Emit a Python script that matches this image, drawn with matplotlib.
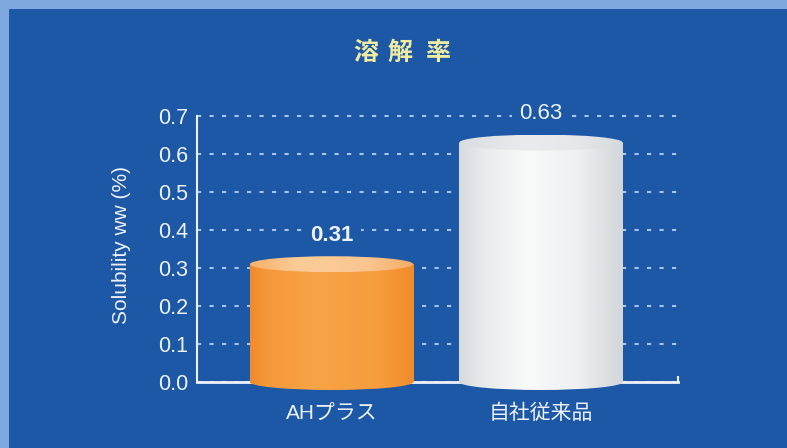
import numpy as np
import matplotlib
matplotlib.use('Agg')
import matplotlib.pyplot as plt
from matplotlib.patches import Ellipse, Rectangle
from matplotlib.colors import to_rgb

plt.rcParams['font.family'] = ['Liberation Sans', 'Noto Sans CJK JP', 'DejaVu Sans']

# ---- data ----
title = "溶解率"
categories = ["AHプラス", "自社従来品"]
values = [0.31, 0.63]
value_labels = ["0.31", "0.63"]
yticks = [0.0, 0.1, 0.2, 0.3, 0.4, 0.5, 0.6, 0.7]
ytick_labels = ["0.0", "0.1", "0.2", "0.3", "0.4", "0.5", "0.6", "0.7"]
ylabel = "Solubility ww (%)"

# ---- style ----
BG = '#1c58a6'
BORDER = '#80aadf'
TXT = '#eef2f8'
TITLE_C = '#efeba2'
GRID_C = '#a9c4e8'

body_stops = [
    [(0.0, '#f08a2a'), (0.1, '#f5983a'), (0.4, '#f8a446'), (0.8, '#f69c3c'), (1.0, '#f08c2c')],
    [(0.0, '#d6dadd'), (0.15, '#e8ebed'), (0.42, '#f9fafa'), (0.72, '#eef0f1'), (1.0, '#d3d7da')],
]
top_stops = [
    [(0.0, '#f5b06a'), (0.3, '#fbcc98'), (0.7, '#fac792'), (1.0, '#f4ac66')],
    [(0.0, '#d9dde0'), (0.4, '#e9ecee'), (0.7, '#e6e9eb'), (1.0, '#d6dadd')],
]
label_weights = ['bold', 'normal']


def grad(stops, n=256):
    pos = [p for p, _ in stops]
    cols = np.array([to_rgb(c) for _, c in stops])
    xs = np.linspace(0, 1, n)
    img = np.stack([np.interp(xs, pos, cols[:, k]) for k in range(3)], axis=-1)
    return img[np.newaxis, :, :]


fig = plt.figure(figsize=(7.87, 4.48), dpi=100, facecolor=BORDER)
fig.patches.append(Rectangle((9 / 787, 0), 1, 1 - 9 / 448, transform=fig.transFigure,
                             facecolor=BG, edgecolor='none', zorder=-10))

ax = fig.add_axes([197 / 787, 0.1176, 481 / 787, 0.632])
ax.set_facecolor('none')

x = np.arange(len(categories))
bw = 0.78
eh = 0.042
bars = ax.bar(x, values, width=bw, facecolor='none', edgecolor='none', zorder=3)

for i, rect in enumerate(bars):
    x0 = rect.get_x()
    w = rect.get_width()
    h = rect.get_height()
    cx = x0 + w / 2
    g = grad(body_stops[i])
    im = ax.imshow(g, extent=(x0, x0 + w, 0, h), aspect='auto', zorder=3,
                   interpolation='bilinear')
    im.set_clip_path(rect)
    eb = Ellipse((cx, 0), w, eh, transform=ax.transData, facecolor='none', edgecolor='none')
    ax.add_patch(eb)
    im2 = ax.imshow(g, extent=(x0, x0 + w, -eh / 2, eh / 2), aspect='auto', zorder=3,
                    interpolation='bilinear')
    im2.set_clip_path(eb)
    et = Ellipse((cx, h), w, eh, transform=ax.transData, facecolor='none', edgecolor='none')
    ax.add_patch(et)
    im3 = ax.imshow(grad(top_stops[i]), extent=(x0, x0 + w, h - eh / 2, h + eh / 2),
                    aspect='auto', zorder=4, interpolation='bilinear')
    im3.set_clip_path(et)
    ax.annotate(value_labels[i], (cx, h), xytext=(0, 21), textcoords='offset points',
                ha='center', va='center', fontsize=16, fontweight=label_weights[i],
                color=TXT, zorder=6,
                bbox=dict(boxstyle='square,pad=0.35', facecolor=BG, edgecolor='none'))

ax.set_xlim(-0.642, 1.654)
ax.set_ylim(-0.035, 0.71)

ax.set_yticks(yticks)
ax.set_yticklabels(ytick_labels)
ax.set_xticks(x)
ax.set_xticklabels(categories)
ax.tick_params(axis='y', length=0, pad=6.5, labelsize=15.5, labelcolor=TXT)
ax.tick_params(axis='x', length=0, pad=15.5, labelsize=15, labelcolor=TXT)

ax.set_axisbelow(True)
ax.yaxis.grid(True, color=GRID_C, linestyle=(0, (2, 4)), linewidth=1.5)
ax.xaxis.grid(False)

for s in ['top', 'right']:
    ax.spines[s].set_visible(False)
ax.spines['bottom'].set_position(('data', 0))
ax.spines['left'].set_bounds(0, 0.7)
for s in ['bottom', 'left']:
    ax.spines[s].set_color(TXT)
ax.spines['left'].set_linewidth(1.5)
ax.spines['bottom'].set_linewidth(2)
ax.plot([1.654, 1.654], [0, 0.016], color=TXT, lw=1.5, solid_capstyle='butt',
        clip_on=False, zorder=2.5)

ax.set_ylabel(ylabel, fontsize=15, color=TXT)
ax.yaxis.set_label_coords(-0.137, 0.53)

# title, characters spaced apart
for ch, xp in zip(title, [366, 400, 438]):
    fig.text(xp / 787, 1 - 53 / 448, ch, ha='center', va='center', fontsize=18,
             fontweight='bold', color=TITLE_C)

fig.savefig('out.png', dpi=100, facecolor=fig.get_facecolor())
